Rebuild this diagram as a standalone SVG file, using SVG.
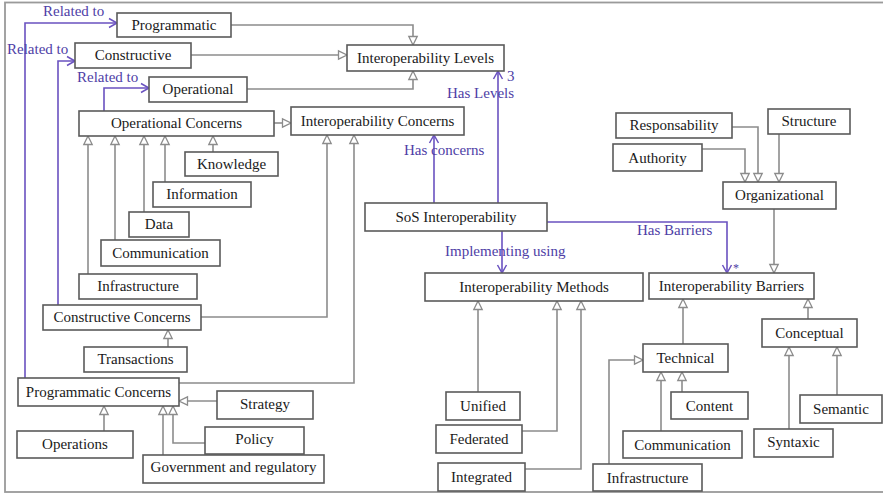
<svg xmlns="http://www.w3.org/2000/svg" width="883" height="494" viewBox="0 0 883 494">
<defs>
<style>
.box rect{fill:#fff;stroke:#5a5a5a;stroke-width:1.6}
.box text{font-family:'Liberation Serif','Tinos','DejaVu Serif','Noto Serif',serif;font-size:15px;fill:#1a1a1a;text-anchor:middle}
.gen{fill:none;stroke:#8c8c8c;stroke-width:1.6;marker-end:url(#gen)}
.assoc{fill:none;stroke:#6a52c0;stroke-width:1.6;marker-end:url(#assoc)}
.lbl{font-family:'Liberation Serif','Tinos','DejaVu Serif','Noto Serif',serif;font-size:15px;fill:#4e3ea6}
</style>
<marker id="gen" markerUnits="userSpaceOnUse" markerWidth="12" markerHeight="12" viewBox="0 0 12 12" refX="10.5" refY="6" orient="auto"><path d="M2,1.8 L10.5,6 L2,10.2 Z" fill="#fff" stroke="#8c8c8c" stroke-width="1.3"/></marker>
<marker id="assoc" markerUnits="userSpaceOnUse" markerWidth="12" markerHeight="12" viewBox="0 0 12 12" refX="10.5" refY="6" orient="auto"><path d="M2.5,1.5 L10.5,6 L2.5,10.5" fill="none" stroke="#6a52c0" stroke-width="1.5"/></marker>
</defs>
<rect x="5" y="2.5" width="900" height="489.5" fill="#fff" stroke="#9a9a9a" stroke-width="1.8"/>
<g id="connectors">
<path class="gen" d="M231,25 H413 V45"/>
<path class="gen" d="M191,55 H347"/>
<path class="gen" d="M247,89 H413 V71"/>
<path class="gen" d="M274,123 H291"/>
<path class="gen" d="M213,152 V136"/>
<path class="gen" d="M165,182 V136"/>
<path class="gen" d="M144,212 V136"/>
<path class="gen" d="M115,240 V136"/>
<path class="gen" d="M88,274 V136"/>
<path class="gen" d="M201,317 H327 V135"/>
<path class="gen" d="M168,347 V330"/>
<path class="gen" d="M179,383 H354 V135"/>
<path class="gen" d="M104,431 V406"/>
<path class="gen" d="M217,401 H179"/>
<path class="gen" d="M205,443 H173 V406"/>
<path class="gen" d="M163,455 V406"/>
<path class="gen" d="M478,392 V301"/>
<path class="gen" d="M522,431 H557 V301"/>
<path class="gen" d="M525,469 H581 V301"/>
<path class="gen" d="M683,344 V299"/>
<path class="gen" d="M808,319 V299"/>
<path class="gen" d="M661,431 V372"/>
<path class="gen" d="M682,392 V372"/>
<path class="gen" d="M609,464 V360 H643"/>
<path class="gen" d="M789,429 V347"/>
<path class="gen" d="M837,395 V347"/>
<path class="gen" d="M732,127 H758 V182"/>
<path class="gen" d="M702,149 H745 V182"/>
<path class="gen" d="M779,134 V182"/>
<path class="gen" d="M774,209 V273"/>
<path class="assoc" d="M104,111 V88 H149"/>
<path class="assoc" d="M58,305 V61 H75"/>
<path class="assoc" d="M25,378 V23 H117"/>
<path class="assoc" d="M434,203 V135"/>
<path class="assoc" d="M498,203 V71"/>
<path class="assoc" d="M502,231 V273"/>
<path class="assoc" d="M547,222 H727 V273"/>
<text class="lbl" x="43" y="16">Related to</text>
<text class="lbl" x="7" y="54">Related to</text>
<text class="lbl" x="77" y="82">Related to</text>
<text class="lbl" x="507" y="81">3</text>
<text class="lbl" x="447" y="98">Has Levels</text>
<text class="lbl" x="404" y="155">Has concerns</text>
<text class="lbl" x="445" y="256">Implementing using</text>
<text class="lbl" x="637" y="235">Has Barriers</text>
<text class="lbl" x="733" y="272" style="font-size:12px">*</text>
</g>
<g id="programmatic" class="box"><rect x="117" y="13" width="114" height="24"/><text x="174" y="30">Programmatic</text></g>
<g id="constructive" class="box"><rect x="75" y="43" width="116" height="25"/><text x="133" y="60">Constructive</text></g>
<g id="operational" class="box"><rect x="149" y="77" width="98" height="25"/><text x="198" y="94">Operational</text></g>
<g id="operational-concerns" class="box"><rect x="79" y="111" width="195" height="25"/><text x="176.5" y="128">Operational Concerns</text></g>
<g id="knowledge" class="box"><rect x="185" y="152" width="93" height="24"/><text x="231.5" y="169">Knowledge</text></g>
<g id="information" class="box"><rect x="153" y="182" width="98" height="25"/><text x="202" y="199">Information</text></g>
<g id="data" class="box"><rect x="129" y="212" width="60" height="25"/><text x="159" y="229">Data</text></g>
<g id="communication-op" class="box"><rect x="101" y="240" width="119" height="26"/><text x="160.5" y="258">Communication</text></g>
<g id="infrastructure-op" class="box"><rect x="79" y="274" width="118" height="25"/><text x="138" y="291">Infrastructure</text></g>
<g id="constructive-concerns" class="box"><rect x="43" y="305" width="158" height="25"/><text x="122" y="322">Constructive Concerns</text></g>
<g id="transactions" class="box"><rect x="84" y="347" width="103" height="25"/><text x="135.5" y="364">Transactions</text></g>
<g id="programmatic-concerns" class="box"><rect x="18" y="378" width="161" height="28"/><text x="98.5" y="397">Programmatic Concerns</text></g>
<g id="operations" class="box"><rect x="17" y="431" width="116" height="27"/><text x="75" y="449">Operations</text></g>
<g id="strategy" class="box"><rect x="217" y="391" width="96" height="28"/><text x="265" y="409">Strategy</text></g>
<g id="policy" class="box"><rect x="205" y="427" width="99" height="27"/><text x="254.5" y="444">Policy</text></g>
<g id="government" class="box"><rect x="143" y="455" width="181" height="28"/><text x="233.5" y="472">Government and regulatory</text></g>
<g id="interop-levels" class="box"><rect x="347" y="45" width="157" height="26"/><text x="425.5" y="63">Interoperability Levels</text></g>
<g id="interop-concerns" class="box"><rect x="291" y="107" width="173" height="28"/><text x="377.5" y="126">Interoperability Concerns</text></g>
<g id="sos" class="box"><rect x="365" y="203" width="182" height="28"/><text x="456" y="222">SoS Interoperability</text></g>
<g id="interop-methods" class="box"><rect x="425" y="273" width="218" height="28"/><text x="534" y="292">Interoperability Methods</text></g>
<g id="unified" class="box"><rect x="446" y="392" width="74" height="28"/><text x="483" y="411">Unified</text></g>
<g id="federated" class="box"><rect x="436" y="425" width="86" height="28"/><text x="479" y="444">Federated</text></g>
<g id="integrated" class="box"><rect x="438" y="463" width="87" height="28"/><text x="481.5" y="482">Integrated</text></g>
<g id="interop-barriers" class="box"><rect x="649" y="273" width="165" height="26"/><text x="731.5" y="291">Interoperability Barriers</text></g>
<g id="technical" class="box"><rect x="643" y="344" width="85" height="28"/><text x="685.5" y="363">Technical</text></g>
<g id="content" class="box"><rect x="671" y="392" width="77" height="27"/><text x="709.5" y="411">Content</text></g>
<g id="communication-tech" class="box"><rect x="623" y="431" width="119" height="27"/><text x="682.5" y="450">Communication</text></g>
<g id="infrastructure-tech" class="box"><rect x="593" y="464" width="109" height="27"/><text x="647.5" y="483">Infrastructure</text></g>
<g id="conceptual" class="box"><rect x="762" y="319" width="95" height="28"/><text x="809.5" y="338">Conceptual</text></g>
<g id="semantic" class="box"><rect x="800" y="395" width="82" height="28"/><text x="841" y="414">Semantic</text></g>
<g id="syntaxic" class="box"><rect x="754" y="429" width="79" height="28"/><text x="793.5" y="447">Syntaxic</text></g>
<g id="responsability" class="box"><rect x="616" y="113" width="116" height="25"/><text x="674" y="130">Responsability</text></g>
<g id="structure" class="box"><rect x="768" y="109" width="82" height="25"/><text x="809" y="126">Structure</text></g>
<g id="authority" class="box"><rect x="613" y="144" width="89" height="27"/><text x="657.5" y="163">Authority</text></g>
<g id="organizational" class="box"><rect x="723" y="182" width="113" height="27"/><text x="779.5" y="200">Organizational</text></g>
</svg>
